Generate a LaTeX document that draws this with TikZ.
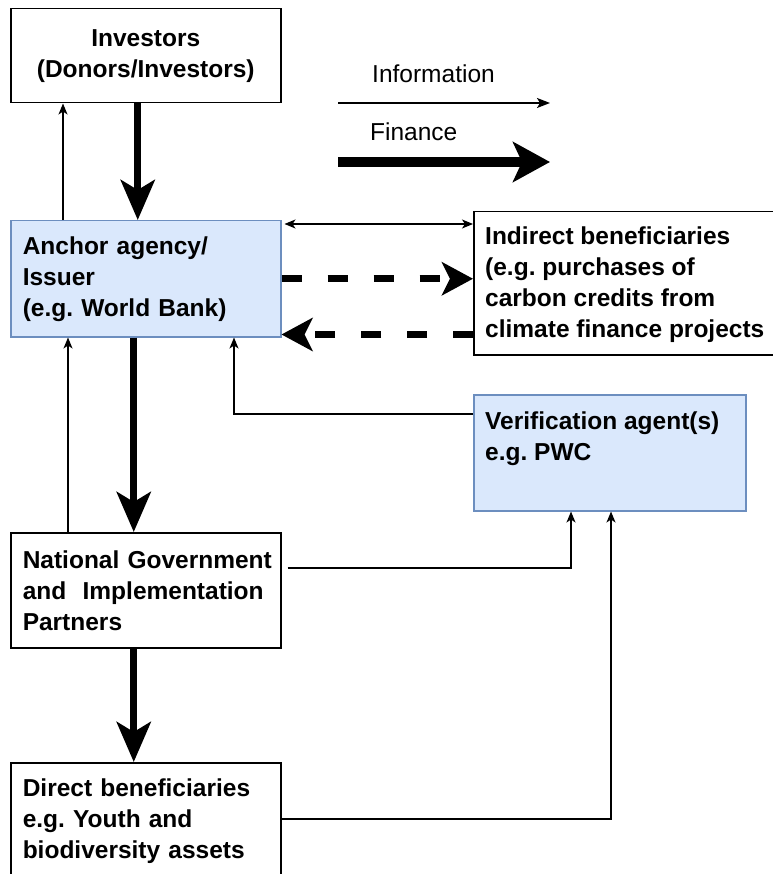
\documentclass[tikz,border=0pt]{standalone}
\usepackage{fontspec}
\setmainfont{Liberation Sans}
\usetikzlibrary{arrows.meta,positioning,calc}
\definecolor{boxblue}{HTML}{DAE8FC}
\definecolor{boxline}{HTML}{6C8EBF}
\newcommand{\bigtext}{\fontsize{24.5}{31}\selectfont\frenchspacing}

\begin{document}
\begin{tikzpicture}[x=1pt,y=-1pt,
  box node/.style={rectangle,draw,line width=1.5pt,font=\bigtext\bfseries,align=left,
    inner xsep=12pt,inner ysep=0pt,anchor=north west,text width=246pt},
  blue node/.style={box node,fill=boxblue,draw=boxline},
  info/.style={-{Stealth[length=11pt,width=9pt,inset=3pt]},line width=1.5pt},
  fin/.style={-{Stealth[length=40pt,width=34pt,inset=10pt]},line width=7pt},
  dash fin/.style={-{Stealth[length=31pt,width=33pt,inset=8pt]},line width=7pt,dash pattern=on 20pt off 26pt}]

  \useasboundingbox (0,0) rectangle (772,874);

  \node[box node,align=center,minimum height=94pt] (inv) at (10,8) {Investors\\(Donors/Investors)};
  \node[blue node,minimum height=116pt] (anc) at (10,220) {Anchor agency/\\Issuer\\(e.g. World Bank)};
  \node[box node,text width=293pt,minimum height=143pt] (ind) at (473,211) {};
  \node[font=\bigtext\bfseries,align=left,inner sep=0pt,below right=16pt and 12pt of ind.north west] (indtext)
    {Indirect beneficiaries\\(e.g. purchases of\\carbon credits from\\climate finance projects};
  \node[blue node,text width=248pt,minimum height=116pt] (ver) at (473,394) {};
  \node[font=\bigtext\bfseries,align=left,inner sep=0pt,below right=18pt and 12pt of ver.north west] (vertext)
    {Verification agent(s)\\e.g. PWC};
  \node[box node,minimum height=115pt] (nat) at (10,532)
    {\mbox{National Government}\\\mbox{and\ \ Implementation}\\Partners};
  \node[box node,minimum height=116pt] (dir) at (10,762) {Direct beneficiaries\\e.g. Youth and\\biodiversity assets};

  % legend
  \node[font=\bigtext,anchor=base west,inner sep=0pt] (infolabel) at (372,83) {Information};
  \node[font=\bigtext,anchor=base west,inner sep=0pt] (finlabel) at (370,141) {Finance};
  \coordinate (infoA) at (338,103);
  \coordinate (infoB) at (550,103);
  \coordinate (finA) at (338,162);
  \coordinate (finB) at (550,162);
  \draw[-{Stealth[length=13pt,width=10pt,inset=3pt]},line width=1.5pt] (infoA) -- (infoB);
  \draw[-{Stealth[length=37pt,width=40pt,inset=9pt]},line width=10pt] (finA) -- (finB);

  \coordinate (back) at ($(anc.south east)+(0,-3)$);

  \draw[fin] ($(inv.south)+(-8,0)$) -- ($(anc.north)+(-8,0)$);
  \draw[info] ($(anc.north west)+(53,0)$) -- ($(inv.south west)+(53,0)$);
  \draw[{Stealth[length=11pt,width=9pt,inset=3pt]}-{Stealth[length=11pt,width=9pt,inset=3pt]},line width=1.5pt]
    ($(anc.north east)+(3,4)$) -- ($(ind.north west)+(0,13)$);
  \draw[dash fin] (anc.east) -- (anc.east -| ind.west);
  \draw[dash fin] (back -| ind.west) -- (back);
  \draw[info] ($(ver.north west)+(0,20)$) -| ($(anc.south west)+(224,0)$);
  \draw[fin] ($(anc.south)+(-12,0)$) -- ($(nat.north)+(-12,0)$);
  \draw[info] ($(nat.north west)+(58,0)$) -- ($(anc.south west)+(58,0)$);
  \draw[info] ($(nat.north east)+(6,36)$) -| ($(ver.south west)+(98,0)$);
  \draw[fin] ($(nat.south)+(-12,0)$) -- ($(dir.north)+(-12,0)$);
  \draw[info] ($(dir.north east)+(0,57)$) -| ($(ver.south west)+(138,0)$);
\end{tikzpicture}
\end{document}
